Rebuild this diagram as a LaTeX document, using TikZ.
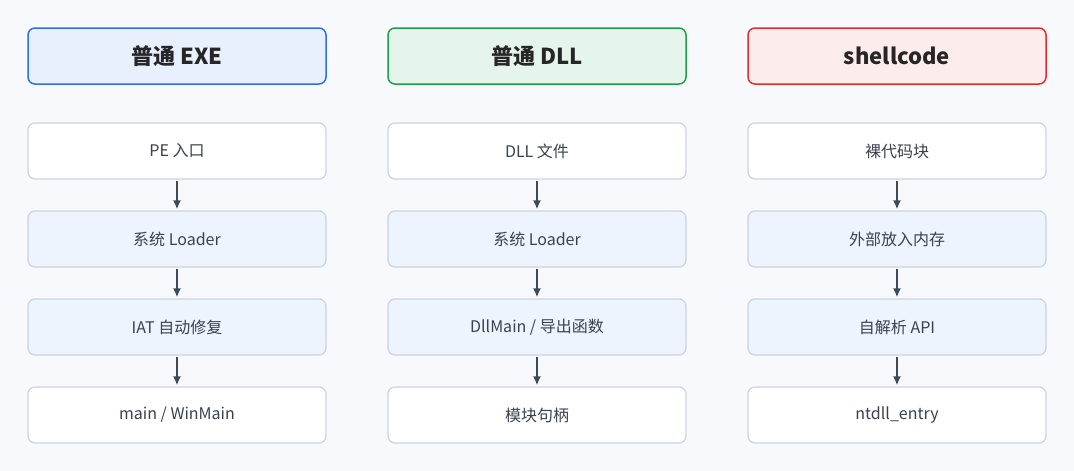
\documentclass[tikz,border=0pt]{standalone}
\usepackage{fontspec}
\setmainfont{Noto Sans CJK SC}
\usetikzlibrary{positioning,arrows.meta}
\definecolor{bg}{HTML}{F8F9FC}
\definecolor{exeB}{HTML}{2F6FE0}\definecolor{exeF}{HTML}{E8F0FE}
\definecolor{dllB}{HTML}{1E9E4A}\definecolor{dllF}{HTML}{E6F5EC}
\definecolor{scB}{HTML}{D93030}\definecolor{scF}{HTML}{FDECEC}
\definecolor{stepB}{HTML}{CDD3DE}\definecolor{stepF}{HTML}{EEF4FD}
\definecolor{arr}{HTML}{3D4A5C}\definecolor{txt}{HTML}{3A4250}
\tikzset{
  head/.style={draw,line width=1.5pt,rounded corners=7pt,minimum width=298pt,minimum height=56pt,font=\bfseries\fontsize{22}{24}\selectfont,text=black!85},
  stepbox/.style={draw=stepB,line width=1.2pt,fill=white,rounded corners=7pt,minimum width=298pt,minimum height=56pt,font=\fontsize{16}{18}\selectfont,text=txt},
  midbox/.style={stepbox,fill=stepF},
  flow/.style={-{Latex[length=9pt,width=8pt]},line width=2.2pt,draw=arr,shorten <=1pt,shorten >=1pt}
}
\begin{document}
\begin{tikzpicture}[x=1pt,y=-1pt]
\fill[bg] (0,0) rectangle (1074,471);
\useasboundingbox (0,0) rectangle (1074,471);
% EXE
\node[head,draw=exeB,fill=exeF] (exeh) at (177,56) {普通 EXE};
\node[stepbox] (exe1) at (177,151) {PE 入口};
\node[midbox] (exe2) at (177,239) {系统 Loader};
\node[midbox] (exe3) at (177,327) {IAT 自动修复};
\node[stepbox] (exe4) at (177,415) {main / WinMain};
% DLL
\node[head,draw=dllB,fill=dllF] (dllh) at (537,56) {普通 DLL};
\node[stepbox] (dll1) at (537,151) {DLL 文件};
\node[midbox] (dll2) at (537,239) {系统 Loader};
\node[midbox] (dll3) at (537,327) {DllMain / 导出函数};
\node[stepbox] (dll4) at (537,415) {模块句柄};
% shellcode
\node[head,draw=scB,fill=scF] (sch) at (897,56) {shellcode};
\node[stepbox] (sc1) at (897,151) {裸代码块};
\node[midbox] (sc2) at (897,239) {外部放入内存};
\node[midbox] (sc3) at (897,327) {自解析 API};
\node[stepbox] (sc4) at (897,415) {ntdll\_entry};
\foreach \c in {exe,dll,sc}{
  \draw[flow] (\c1) -- (\c2);
  \draw[flow] (\c2) -- (\c3);
  \draw[flow] (\c3) -- (\c4);
}
\end{tikzpicture}
\end{document}
